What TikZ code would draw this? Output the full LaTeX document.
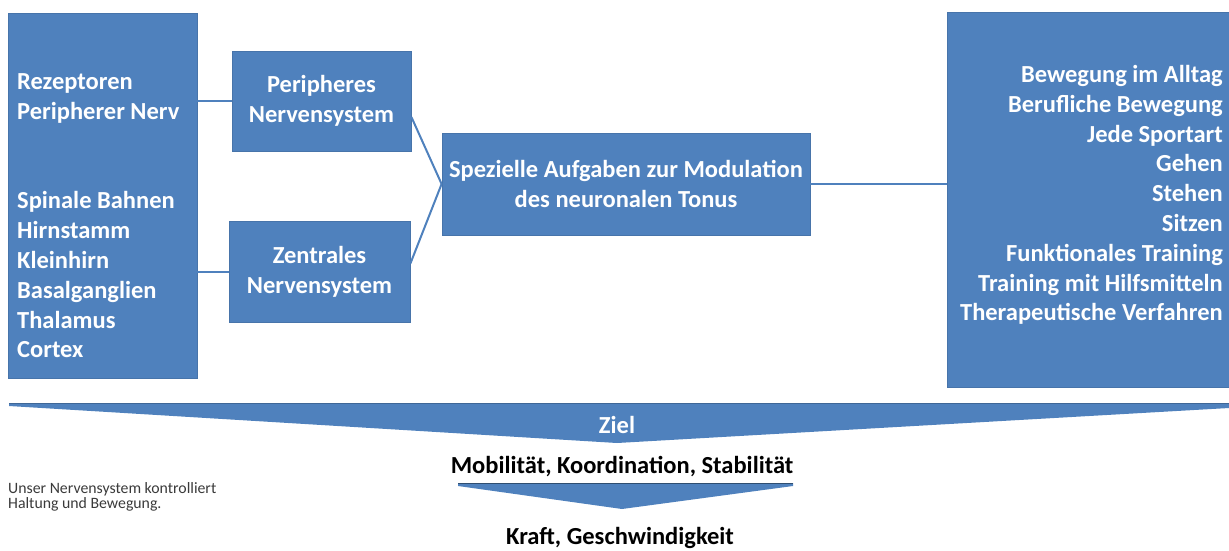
\documentclass[tikz,border=0pt]{standalone}
\usepackage{fontspec}
\setmainfont{Carlito}
\definecolor{boxblue}{HTML}{4F81BD}
\definecolor{captiongray}{HTML}{3A3A3A}
\begin{document}
\begin{tikzpicture}[x=1pt,y=-1pt,
    box/.style={draw=boxblue!90!black,line width=0.8pt,fill=boxblue,inner sep=0pt},
    boxtext/.style={text=white,font=\bfseries\fontsize{24.5}{29.8}\selectfont,inner sep=0pt},
    link/.style={draw=boxblue,line width=2pt},
    goal/.style={font=\bfseries\fontsize{24.5}{26}\selectfont,inner sep=0pt}]
    \useasboundingbox (0,0) rectangle (1229,550);

    \node[box,minimum width=189pt,minimum height=365pt] (lbox) at (102.5,195.5) {};
    \node[boxtext,anchor=west,align=left] (ltext) at (17,216)
        {Rezeptoren\\Peripherer Nerv\\[29.8pt]\\Spinale Bahnen\\Hirnstamm\\Kleinhirn\\Basalganglien\\Thalamus\\Cortex};

    \node[box,minimum width=179pt,minimum height=100pt,boxtext,align=center] (peri) at (321.5,101)
        {Peripheres\\Nervensystem};
    \node[box,minimum width=181pt,minimum height=101pt,boxtext,align=center] (zent) at (319.5,271.5)
        {Zentrales\\Nervensystem};
    \node[box,minimum width=368pt,minimum height=102pt,boxtext,align=center] (cent) at (626,184)
        {Spezielle Aufgaben zur Modulation\\des neuronalen Tonus};

    \node[box,minimum width=300pt,minimum height=375pt] (rbox) at (1097,199.5) {};
    \node[boxtext,anchor=east,align=right] (rtext) at (1223,195)
        {Bewegung im Alltag\\Berufliche Bewegung\\Jede Sportart\\Gehen\\Stehen\\Sitzen\\Funktionales Training\\Training mit Hilfsmitteln\\Therapeutische Verfahren};

    \draw[link] (lbox.east |- peri.west) -- (peri.west);
    \draw[link] (lbox.east |- zent.west) -- (zent.west);
    \draw[link] ([yshift=-16pt]peri.east) -- (cent.west);
    \draw[link] ([yshift=8pt]zent.east) -- (cent.west);
    \draw[link] (cent.east) -- (rbox.west |- cent.east);

    % goal arrows
    \fill[boxblue] (9,403) -- (1229,403) -- (1229,408) -- (617,443) -- (9,406) -- cycle;
    \draw[boxblue!80!black,line width=0.8pt] (9,403) -- (1229,403);
    \node[goal,text=white] (ziel) at (617,425) {Ziel};

    \node[goal] (mobil) at (622,467) {Mobilität, Koordination, Stabilität};
    \fill[boxblue] (458,483) -- (793,483) -- (793,486) -- (622,509) -- (458,486) -- cycle;
    \draw[boxblue!60!black,line width=0.8pt] (458,483) -- (793,483);
    \node[goal] (kraft) at (620,538) {Kraft, Geschwindigkeit};

    \node[anchor=west,align=left,inner sep=0pt,text=captiongray,font=\fontsize{15.8}{14.5}\selectfont] (caption) at (8,497)
        {Unser Nervensystem kontrolliert\\Haltung und Bewegung.};
\end{tikzpicture}
\end{document}
